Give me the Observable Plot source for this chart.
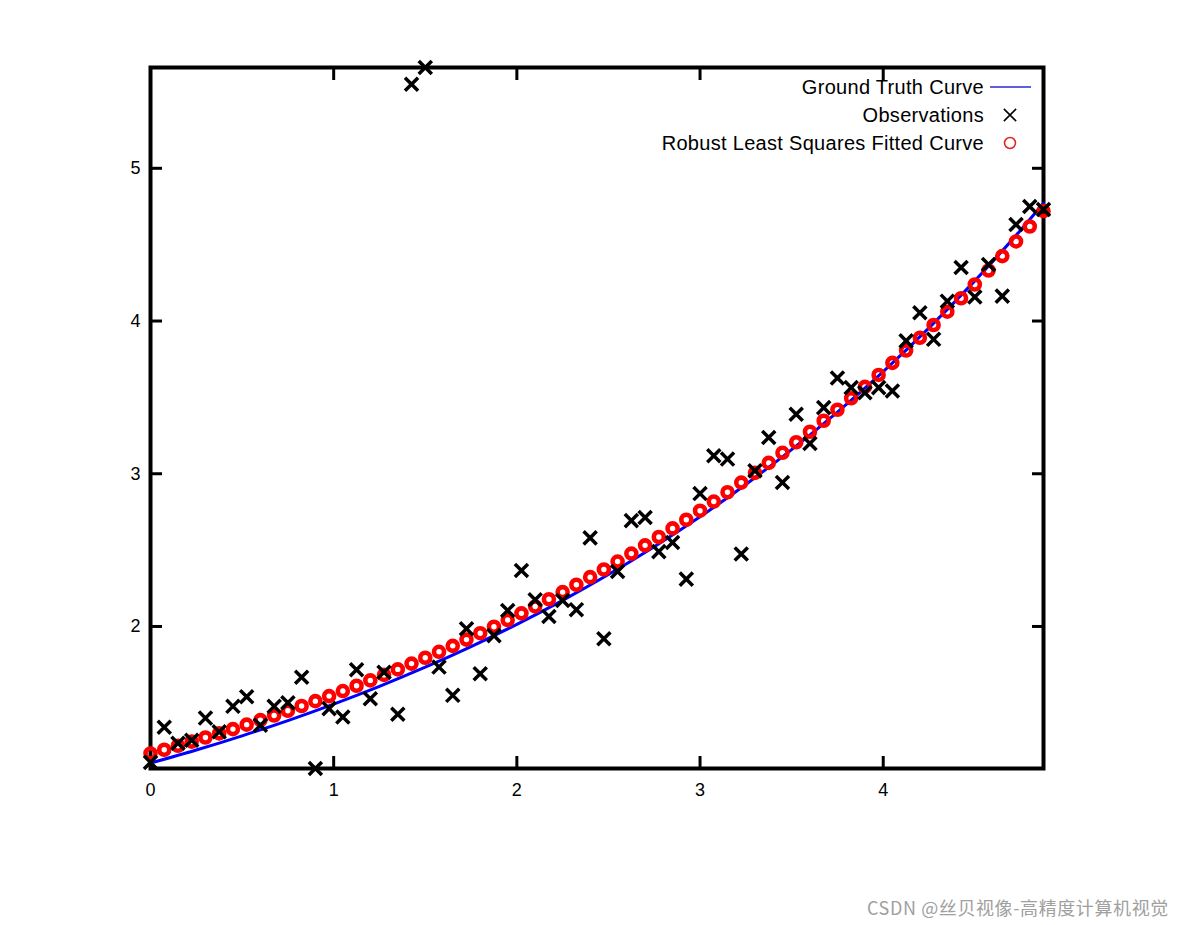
<!DOCTYPE html>
<html>
<head>
<meta charset="utf-8">
<script src="https://cdn.jsdelivr.net/npm/d3@7"></script>
<script src="https://cdn.jsdelivr.net/npm/@observablehq/plot@0.6"></script>
<style>
  html, body { margin: 0; padding: 0; background: #fff; }
  #wrap { position: relative; width: 1184px; height: 925px; overflow: hidden; }
  #legend { position: absolute; left: 0; top: 0; }
  #mark { position: absolute; left: 867px; top: 894px; font: 18px "Noto Sans CJK SC", "Liberation Sans", sans-serif; color: #a0a0a0; letter-spacing: 0.6px; white-space: nowrap; }
</style>
</head>
<body>
<div id="wrap"></div>
<script>
// ---- data ----
const xs = [0, 0.075, 0.15, 0.225, 0.3, 0.375, 0.45, 0.525, 0.6, 0.675, 0.75, 0.825, 0.9, 0.975, 1.05, 1.125, 1.2, 1.275, 1.35, 1.425, 1.5, 1.575, 1.65, 1.725, 1.8, 1.875, 1.95, 2.025, 2.1, 2.175, 2.25, 2.325, 2.4, 2.475, 2.55, 2.625, 2.7, 2.775, 2.85, 2.925, 3.0, 3.075, 3.15, 3.225, 3.3, 3.375, 3.45, 3.525, 3.6, 3.675, 3.75, 3.825, 3.9, 3.975, 4.05, 4.125, 4.2, 4.275, 4.35, 4.425, 4.5, 4.575, 4.65, 4.725, 4.8, 4.875];
const observations = [1.11, 1.34, 1.235, 1.255, 1.40, 1.31, 1.477, 1.54, 1.353, 1.477, 1.50, 1.667, 1.07, 1.462, 1.407, 1.717, 1.527, 1.70, 1.425, 5.55, 5.66, 1.734, 1.549, 1.985, 1.69, 1.94, 2.105, 2.366, 2.175, 2.065, 2.17, 2.11, 2.58, 1.92, 2.36, 2.693, 2.714, 2.49, 2.55, 2.31, 2.87, 3.118, 3.096, 2.475, 3.02, 3.237, 2.943, 3.39, 3.198, 3.433, 3.627, 3.564, 3.53, 3.564, 3.542, 3.87, 4.054, 3.88, 4.13, 4.35, 4.157, 4.37, 4.163, 4.632, 4.75, 4.73];
const fitted = [1.168, 1.193, 1.219, 1.246, 1.273, 1.300, 1.328, 1.357, 1.387, 1.417, 1.448, 1.479, 1.511, 1.544, 1.577, 1.612, 1.647, 1.683, 1.719, 1.757, 1.795, 1.834, 1.873, 1.914, 1.956, 1.998, 2.042, 2.086, 2.131, 2.178, 2.225, 2.273, 2.323, 2.373, 2.425, 2.477, 2.531, 2.586, 2.642, 2.699, 2.758, 2.818, 2.879, 2.942, 3.006, 3.071, 3.137, 3.206, 3.275, 3.347, 3.419, 3.494, 3.569, 3.647, 3.726, 3.807, 3.890, 3.974, 4.061, 4.149, 4.239, 4.331, 4.425, 4.521, 4.619, 4.720];
const truthX = [0, 0.25, 0.5, 0.75, 1.0, 1.25, 1.5, 1.75, 2.0, 2.25, 2.5, 2.75, 3.0, 3.25, 3.5, 3.75, 4.0, 4.25, 4.5, 4.75, 4.875];
const truthY = [1.105, 1.191, 1.284, 1.384, 1.492, 1.608, 1.733, 1.868, 2.014, 2.171, 2.340, 2.522, 2.718, 2.930, 3.158, 3.404, 3.669, 3.955, 4.263, 4.595, 4.771];
const xTicks = [0, 1, 2, 3, 4];
const yTicks = [2, 3, 4, 5];
const seriesNames = ["Ground Truth Curve", "Observations", "Robust Least Squares Fitted Curve"];
const watermark = "CSDN @丝贝视像-高精度计算机视觉";

const obsData = xs.map((x, i) => ({x, y: observations[i]}));
const fitData = xs.map((x, i) => ({x, y: fitted[i]}));
const truthData = truthX.map((x, i) => ({x, y: truthY[i]}));
const fmt = d3.format("d");

const chart = Plot.plot({
  width: 1184,
  height: 925,
  marginLeft: 150,
  marginRight: 141,
  marginTop: 67,
  marginBottom: 157,
  style: {fontFamily: "'Liberation Sans', Arial, sans-serif", fontSize: "18px", background: "#fff", color: "#000"},
  x: {domain: [0, d3.max(xs)]},
  y: {domain: d3.extent(observations)},
  marks: [
    Plot.frame({stroke: "#000", strokeWidth: 4}),
    Plot.axisX(xTicks, {anchor: "bottom", tickSize: -12, tickPadding: 27, strokeWidth: 3, tickFormat: fmt, label: null}),
    Plot.axisX(xTicks, {anchor: "top", tickSize: -12, strokeWidth: 3, tickFormat: () => "", label: null}),
    Plot.axisY(yTicks, {anchor: "left", tickSize: -12, tickPadding: 22, strokeWidth: 3, tickFormat: fmt, label: null}),
    Plot.axisY(yTicks, {anchor: "right", tickSize: -12, strokeWidth: 3, tickFormat: () => "", label: null}),
    Plot.line(truthData, {x: "x", y: "y", stroke: "#0000ff", strokeWidth: 3, curve: "monotone-x"}),
    Plot.dot(fitData, {x: "x", y: "y", r: 5, stroke: "#ff0000", strokeWidth: 4.6, fill: "none"}),
    Plot.dot(obsData, {x: "x", y: "y", symbol: "times", r: 6, stroke: "#000", strokeWidth: 3.5})
  ]
});
const wrap = document.getElementById("wrap");
wrap.appendChild(chart);

// legend (inside the plot, top right)
const lg = d3.create("svg").attr("id", "legend").attr("width", 1184).attr("height", 925)
  .style("font-family", "'Liberation Sans', Arial, sans-serif").style("font-size", "20px").style("letter-spacing", "0.3px");
const rows = lg.selectAll("g").data(seriesNames).join("g")
  .attr("transform", (d, i) => `translate(984,${87 + i * 28})`);
rows.append("text").attr("text-anchor", "end").attr("dy", "0.35em").attr("fill", "#000").text(d => d);
rows.filter((d, i) => i === 0).append("line").attr("x1", 6).attr("x2", 47).attr("stroke", "#2a2ad0").attr("stroke-width", 1.5);
rows.filter((d, i) => i === 1).append("path").attr("d", d3.symbol(d3.symbolTimes, 100)()).attr("transform", "translate(26,0)").attr("stroke", "#000").attr("stroke-width", 1.5).attr("fill", "none");
rows.filter((d, i) => i === 2).append("circle").attr("cx", 26).attr("r", 5.5).attr("stroke", "#e02020").attr("stroke-width", 1.5).attr("fill", "none");
wrap.appendChild(lg.node());

const wm = document.createElement("div");
wm.id = "mark";
wm.textContent = watermark;
wrap.appendChild(wm);
</script>
</body>
</html>
